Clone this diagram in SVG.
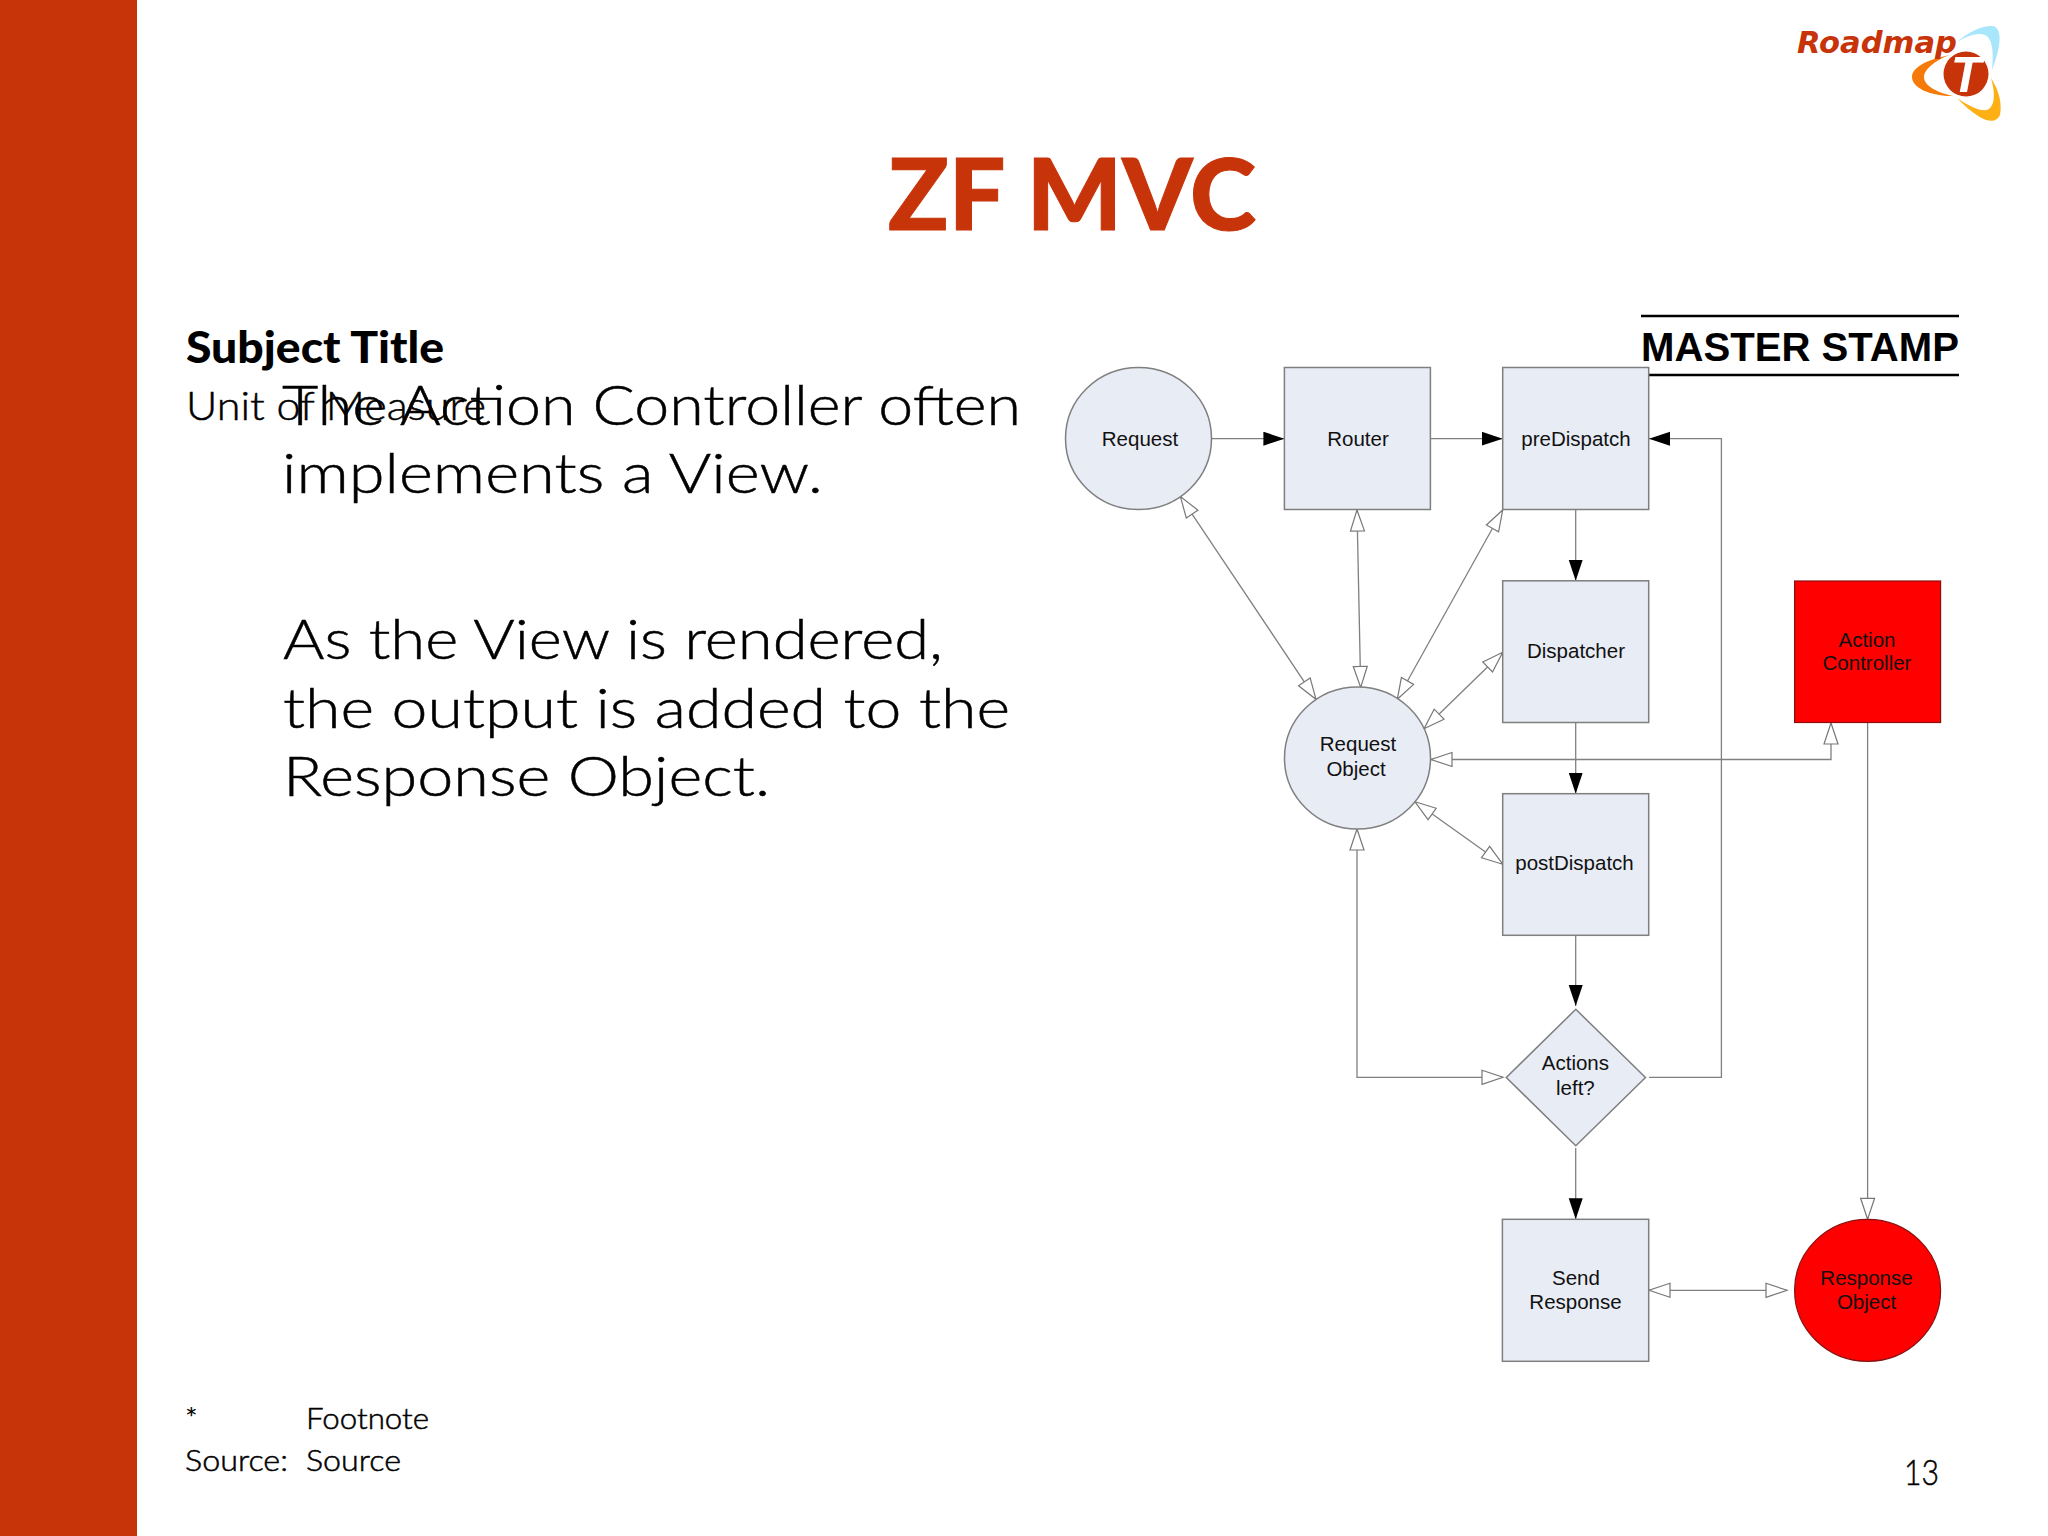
<svg xmlns="http://www.w3.org/2000/svg" width="2048" height="1536" viewBox="0 0 2048 1536">
<style>
.n{fill:#e8ecf5;stroke:#7f7f7f;stroke-width:1.5}
.r{fill:#ff0000;stroke:#8a1010;stroke-width:1.2}
.c{fill:none;stroke:#808080;stroke-width:1.3}
.l{font-family:"Liberation Sans",Arial,sans-serif;font-size:20.5px;text-anchor:middle;fill:#111}
.g{font-family:Lato,"Open Sans",sans-serif;fill:#000;font-weight:300;stroke:#000;stroke-width:.5}
.b{font-size:56px}
.f{font-size:30px}
.bk{marker-end:url(#solid)}
.op{marker-end:url(#open)}
.oo{marker-start:url(#open);marker-end:url(#open)}
</style>
<defs>
<marker id="solid" markerUnits="userSpaceOnUse" markerWidth="22" markerHeight="16" refX="21" refY="7" orient="auto-start-reverse"><path d="M0 0L21 7L0 14Z" fill="#000"/></marker>
<marker id="open" markerUnits="userSpaceOnUse" markerWidth="24" markerHeight="18" refX="22" refY="8" orient="auto-start-reverse"><path d="M1 1L22 8L1 15Z" fill="#fff" stroke="#777" stroke-width="1.2"/></marker>
</defs>
<rect width="2048" height="1536" fill="#fff"/>
<rect id="sidebar" width="137" height="1536" fill="#c8340a"/>
<g id="logo">
<path d="M1957 42C1970 30 1985 25 1993 26C2002 28 2002 45 1992 70C1994 50 1992 38 1985 35C1977 32 1965 37 1957 42Z" fill="#a8e6fb"/>
<path d="M1950 55C1925 60 1912 68 1912 77C1912 88 1930 96 1953 96C1935 92 1924 85 1924 77C1924 70 1935 60 1950 55Z" fill="#f57a0a"/>
<path d="M1991 78C2000 92 2002 105 2000 115C1995 126 1980 122 1957 98C1975 110 1985 113 1990 108C1995 103 1995 92 1991 78Z" fill="#fdb016"/>
<circle cx="1966" cy="74" r="22.5" fill="#c8340a"/>
<text x="1966" y="92" font-family="'Liberation Sans',Arial,sans-serif" font-size="50" font-weight="700" font-style="italic" fill="#fff" text-anchor="middle">T</text>
<text x="1797" y="53" font-family="'DejaVu Sans','Liberation Sans',sans-serif" font-size="31" font-weight="700" font-style="italic" fill="#c8340a" textLength="160" lengthAdjust="spacingAndGlyphs">Roadmap</text>
</g>
<text id="title" x="888" y="230" font-family="Lato,'Open Sans',sans-serif" font-size="100" font-weight="900" fill="#c8340a" stroke="#c8340a" stroke-width="1" textLength="368" lengthAdjust="spacingAndGlyphs">ZF MVC</text>
<g id="subject">
<text class="g" style="font-weight:900;stroke:none" x="186" y="363" font-size="44" textLength="258" lengthAdjust="spacingAndGlyphs">Subject Title</text>
<text class="g" x="186" y="420" font-size="39" textLength="300" lengthAdjust="spacingAndGlyphs">Unit of Measure</text>
</g>
<g id="body">
<text class="g b" x="282" y="425" textLength="739" lengthAdjust="spacingAndGlyphs">The Action Controller often</text>
<text class="g b" x="282" y="493" textLength="541" lengthAdjust="spacingAndGlyphs">implements a View.</text>
<text class="g b" x="283" y="659" textLength="660" lengthAdjust="spacingAndGlyphs">As the View is rendered,</text>
<text class="g b" x="283" y="727.5" textLength="727" lengthAdjust="spacingAndGlyphs">the output is added to the</text>
<text class="g b" x="283" y="796" textLength="487" lengthAdjust="spacingAndGlyphs">Response Object.</text>
</g>
<g id="footer">
<text class="g f" x="185" y="1429">*</text>
<text class="g f" x="306" y="1429" textLength="123" lengthAdjust="spacingAndGlyphs">Footnote</text>
<text class="g f" x="185" y="1471" textLength="103" lengthAdjust="spacingAndGlyphs">Source:</text>
<text class="g f" x="306" y="1471" textLength="95" lengthAdjust="spacingAndGlyphs">Source</text>
<text class="g" x="1904" y="1485" font-size="36" textLength="35" lengthAdjust="spacingAndGlyphs">13</text>
</g>
<g id="stamp">
<path d="M1641 316H1959M1641 375H1959" stroke="#000" stroke-width="2.5" fill="none"/>
<text x="1641" y="361" font-family="'Liberation Sans',Arial,sans-serif" font-size="40" font-weight="700" fill="#000" textLength="318" lengthAdjust="spacingAndGlyphs">MASTER STAMP</text>
</g>
<g id="connectors">
<path class="c bk" d="M1211 438.7H1284.4"/>
<path class="c bk" d="M1430.4 438.7H1502.7"/>
<path class="c bk" d="M1649 1077.3H1721.4V438.7H1649"/>
<path class="c bk" d="M1575.7 509.6V580.8"/>
<path class="c bk" d="M1575.7 722.5V793.7"/>
<path class="c bk" d="M1575.7 935.3V1006"/>
<path class="c bk" d="M1575.7 1148V1219.3"/>
<path class="c oo" d="M1357 829V1077.3H1503"/>
<path class="c oo" d="M1431 759.5H1831V723"/>
<path class="c op" d="M1867.6 722.5V1219.3"/>
<path class="c oo" d="M1649 1290.3H1787"/>
<path class="c oo" d="M1180.4 496.6L1316 699.3"/>
<path class="c oo" d="M1357 510L1360.7 687.4"/>
<path class="c oo" d="M1502.7 510L1397.3 699.3"/>
<path class="c oo" d="M1502.7 652.3L1424 728.8"/>
<path class="c oo" d="M1502.7 864.2L1415 801.8"/>
</g>
<g id="request"><ellipse class="n" cx="1138.5" cy="438.5" rx="73" ry="71"/><text class="l" x="1140" y="445.5">Request</text></g>
<g id="router"><rect class="n" x="1284.4" y="367.5" width="146" height="142"/><text class="l" x="1358" y="445.5">Router</text></g>
<g id="predispatch"><rect class="n" x="1502.7" y="367.5" width="146" height="142"/><text class="l" x="1576" y="445.5">preDispatch</text></g>
<g id="dispatcher"><rect class="n" x="1502.7" y="580.8" width="146" height="141.7"/><text class="l" x="1576" y="658">Dispatcher</text></g>
<g id="action-controller"><rect class="r" x="1794.6" y="581" width="146" height="141.5"/><text class="l" x="1867" y="646.5">Action</text><text class="l" x="1867" y="669.5">Controller</text></g>
<g id="request-object"><ellipse class="n" cx="1357.5" cy="758" rx="73" ry="71"/><text class="l" x="1358" y="751">Request</text><text class="l" x="1356" y="775.5">Object</text></g>
<g id="postdispatch"><rect class="n" x="1502.7" y="793.7" width="146" height="141.6"/><text class="l" x="1574.5" y="870">postDispatch</text></g>
<g id="actions-left"><path class="n" d="M1575.8 1009.3L1645.5 1077.5L1575.8 1145.7L1506.3 1077.5Z"/><text class="l" x="1575.4" y="1070">Actions</text><text class="l" x="1575.4" y="1094.5">left?</text></g>
<g id="send-response"><rect class="n" x="1502.4" y="1219.3" width="146.3" height="142"/><text class="l" x="1576" y="1285">Send</text><text class="l" x="1575.5" y="1309">Response</text></g>
<g id="response-object"><ellipse class="r" cx="1867.6" cy="1290.3" rx="73" ry="71"/><text class="l" x="1866.5" y="1285">Response</text><text class="l" x="1866.5" y="1309">Object</text></g>
</svg>
